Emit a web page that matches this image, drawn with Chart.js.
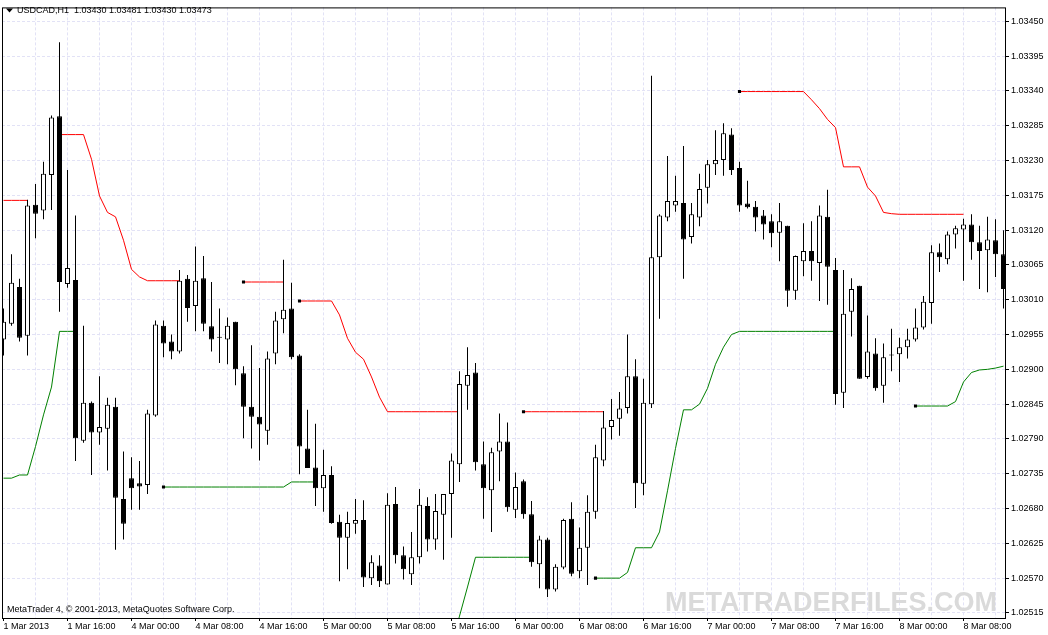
<!DOCTYPE html>
<html><head><meta charset="utf-8">
<script src="https://cdn.jsdelivr.net/npm/chart.js@4/dist/chart.umd.min.js"></script>
<style>html,body{margin:0;padding:0;background:#fff;overflow:hidden}</style>
</head><body>
<canvas id="c" width="1048" height="635"></canvas>
<script>
const symbolTitle = 'USDCAD,H1  1.03430 1.03481 1.03430 1.03473';
const copyright = 'MetaTrader 4, \u00a9 2001-2013, MetaQuotes Software Corp.';
const watermark = 'METATRADERFILES.COM';

const xTickLabels = ['1 Mar 2013','1 Mar 16:00','4 Mar 00:00','4 Mar 08:00','4 Mar 16:00','5 Mar 00:00','5 Mar 08:00','5 Mar 16:00',
  '6 Mar 00:00','6 Mar 08:00','6 Mar 16:00','7 Mar 00:00','7 Mar 08:00','7 Mar 16:00','8 Mar 00:00','8 Mar 08:00'];
const yTicks = [1.02515,1.02570,1.02625,1.02680,1.02735,1.02790,1.02845,1.02900,1.02955,1.03010,1.03065,1.03120,1.03175,1.03230,1.03285,1.03340,1.03395,1.03450];

const open = [
1.02947,1.02972,1.03030,1.02953,1.03160,1.03151,1.03207,1.03300,1.03035,1.03041,
1.02787,1.02847,1.02800,1.02806,1.02841,1.02695,1.02728,1.02720,1.02717,1.02827,
1.02969,1.02944,1.02928,1.03043,1.03000,1.03044,1.02968,1.02950,1.02947,1.02975,
1.02894,1.02841,1.02825,1.02803,1.02925,1.02979,1.02996,1.02922,1.02775,1.02745,
1.02712,1.02733,1.02659,1.02634,1.02656,1.02662,1.02570,1.02590,1.02560,1.02687,
1.02606,1.02576,1.02603,1.02684,1.02631,1.02670,1.02703,1.02750,1.02874,1.02895,
1.02750,1.02709,1.02770,1.02786,1.02678,1.02723,1.02671,1.02592,1.02631,1.02552,
1.02587,1.02664,1.02581,1.02618,1.02675,1.02756,1.02809,1.02822,1.02839,1.02889,
1.02719,1.02845,1.03077,1.03140,1.03159,1.03163,1.03109,1.03140,1.03187,1.03224,
1.03231,1.03271,1.03218,1.03162,1.03157,1.03143,1.03134,1.03116,1.03127,1.03024,
1.03071,1.03087,1.03068,1.03141,1.03057,1.02863,1.02991,1.03032,1.02888,1.02925,
1.02874,1.02922,1.02924,1.02935,1.02947,1.02966,1.03005,1.03085,1.03074,1.03113,
1.03121,1.03129,1.03101,1.03088,1.03104,1.03082];
const high = [
1.02996,1.03082,1.03043,1.03168,1.03193,1.03228,1.03301,1.03417,1.03215,1.03143,
1.02969,1.02849,1.02889,1.02855,1.02855,1.02770,1.02761,1.02755,1.02836,1.02977,
1.02977,1.02955,1.03057,1.03049,1.03094,1.03079,1.03038,1.02996,1.02982,1.02975,
1.02905,1.02938,1.02902,1.02928,1.02991,1.03073,1.03037,1.02924,1.02836,1.02814,
1.02773,1.02747,1.02670,1.02675,1.02695,1.02693,1.02606,1.02606,1.02704,1.02714,
1.02620,1.02643,1.02711,1.02698,1.02703,1.02703,1.02767,1.02897,1.02935,1.02910,
1.02786,1.02776,1.02830,1.02816,1.02737,1.02726,1.02692,1.02637,1.02634,1.02592,
1.02664,1.02690,1.02650,1.02701,1.02781,1.02834,1.02853,1.02864,1.02955,1.02916,
1.02885,1.03364,1.03145,1.03237,1.03206,1.03253,1.03163,1.03209,1.03231,1.03278,
1.03289,1.03281,1.03228,1.03198,1.03166,1.03152,1.03145,1.03163,1.03127,1.03080,
1.03131,1.03134,1.03159,1.03184,1.03076,1.03057,1.03044,1.03032,1.02985,1.02949,
1.02941,1.02964,1.02950,1.02964,1.02996,1.03016,1.03096,1.03099,1.03118,1.03127,
1.03138,1.03145,1.03127,1.03141,1.03137,1.03120];
const low = [
1.02922,1.02969,1.02944,1.02922,1.03107,1.03137,1.03152,1.02991,1.03029,1.02755,
1.02784,1.02733,1.02781,1.02740,1.02615,1.02631,1.02678,1.02678,1.02703,1.02825,
1.02919,1.02916,1.02925,1.02975,1.02960,1.02960,1.02928,1.02910,1.02908,1.02875,
1.02791,1.02775,1.02756,1.02781,1.02908,1.02957,1.02916,1.02734,1.02744,1.02684,
1.02675,1.02656,1.02565,1.02584,1.02640,1.02556,1.02559,1.02556,1.02560,1.02593,
1.02568,1.02559,1.02593,1.02612,1.02615,1.02599,1.02634,1.02722,1.02836,1.02740,
1.02664,1.02643,1.02723,1.02675,1.02665,1.02664,1.02588,1.02554,1.02540,1.02549,
1.02584,1.02573,1.02570,1.02559,1.02664,1.02747,1.02789,1.02795,1.02830,1.02681,
1.02701,1.02839,1.02980,1.03134,1.03149,1.03043,1.03099,1.03126,1.03162,1.03207,
1.03206,1.03207,1.03149,1.03154,1.03118,1.03105,1.03093,1.03071,1.02999,1.03010,
1.03047,1.03040,1.03008,1.03002,1.02844,1.02839,1.02952,1.02885,1.02885,1.02866,
1.02847,1.02897,1.02880,1.02917,1.02944,1.02963,1.02972,1.03054,1.03066,1.03091,
1.03040,1.03073,1.03027,1.03022,1.03046,1.02996];
const close = [
1.02975,1.03037,1.02950,1.03159,1.03146,1.03209,1.03298,1.03038,1.03060,1.02791,
1.02847,1.02800,1.02809,1.02844,1.02697,1.02656,1.02712,1.02715,1.02830,1.02971,
1.02941,1.02928,1.03040,1.02997,1.03040,1.02972,1.02947,1.02950,1.02969,1.02900,
1.02841,1.02825,1.02813,1.02917,1.02977,1.02994,1.02919,1.02778,1.02744,1.02712,
1.02733,1.02657,1.02634,1.02657,1.02662,1.02571,1.02595,1.02565,1.02686,1.02606,
1.02584,1.02603,1.02686,1.02631,1.02676,1.02703,1.02756,1.02877,1.02891,1.02753,
1.02712,1.02769,1.02786,1.02682,1.02714,1.02671,1.02595,1.02631,1.02552,1.02588,
1.02662,1.02577,1.02618,1.02675,1.02761,1.02808,1.02820,1.02838,1.02889,1.02720,
1.02847,1.03077,1.03143,1.03166,1.03166,1.03105,1.03145,1.03185,1.03224,1.03231,
1.03273,1.03215,1.03159,1.03156,1.03140,1.03129,1.03115,1.03134,1.03024,1.03079,
1.03087,1.03071,1.03143,1.03062,1.02861,1.02988,1.03027,1.02885,1.02928,1.02870,
1.02919,1.02922,1.02935,1.02947,1.02966,1.03007,1.03085,1.03077,1.03113,1.03123,
1.03129,1.03101,1.03087,1.03105,1.03082,1.03027];

const redLine = [
1.03167,1.03167,1.03167,1.03167,null,null,null,1.03271,1.03271,1.03271,
1.03271,1.03232,1.03174,1.03148,1.03141,1.03104,1.03058,1.03046,1.03040,1.03040,
1.03040,1.03040,1.03040,null,null,null,null,null,null,null,
1.03038,1.03038,1.03038,1.03038,1.03038,1.03038,null,1.03008,1.03008,1.03008,
1.03008,1.03008,1.02986,1.02949,1.02927,1.02916,1.02888,1.02856,1.02833,1.02833,
1.02833,1.02833,1.02833,1.02833,1.02833,1.02833,1.02833,1.02833,null,null,
null,null,null,null,null,1.02833,1.02833,1.02833,1.02833,1.02833,
1.02833,1.02833,1.02833,1.02833,1.02833,1.02833,null,null,null,null,
null,null,null,null,null,null,null,null,null,null,
null,null,1.03339,1.03339,1.03339,1.03339,1.03339,1.03339,1.03339,1.03339,
1.03339,1.03326,1.03312,1.03295,1.03282,1.03220,1.03220,1.03220,1.03188,1.03174,
1.03148,1.03146,1.03145,1.03145,1.03145,1.03145,1.03145,1.03145,1.03145,1.03145,
1.03145,null,null,null,null,null];
const greenLine = [
1.02728,1.02728,1.02733,1.02733,1.02778,1.02828,1.02872,1.02960,1.02960,1.02960,
null,null,null,null,null,null,null,null,null,null,
1.02714,1.02714,1.02714,1.02714,1.02714,1.02714,1.02714,1.02714,1.02714,1.02714,
1.02714,1.02714,1.02714,1.02714,1.02714,1.02714,1.02722,1.02722,1.02722,1.02722,
null,null,null,null,null,null,null,null,null,null,
null,null,null,null,null,null,1.02465,1.02510,1.02556,1.02603,
1.02603,1.02603,1.02603,1.02603,1.02603,1.02603,1.02603,null,null,null,
null,null,null,null,1.02570,1.02570,1.02570,1.02570,1.02579,1.02618,
1.02618,1.02618,1.02643,1.02708,1.02775,1.02836,1.02836,1.02845,1.02870,1.02908,
1.02935,1.02955,1.02960,1.02960,1.02960,1.02960,1.02960,1.02960,1.02960,1.02960,
1.02960,1.02960,1.02960,1.02960,1.02960,null,null,null,null,null,
null,null,null,null,1.02842,1.02842,1.02842,1.02842,1.02842,1.02849,
1.02880,1.02895,1.02899,1.02900,1.02902,1.02905];

const GRID = 'rgb(226,226,246)';
const FONT = "'Liberation Sans', Arial, sans-serif";
Chart.defaults.font.family = FONT;
Chart.defaults.font.size = 9;
Chart.defaults.color = '#000';

const idx = open.map((_, i) => i);
function segStarts(arr) {
  const out = [];
  arr.forEach((v, i) => { if (i > 0 && v !== null && arr[i - 1] === null) out.push({x: i, y: v}); });
  return out;
}

const mtPlugin = {
  id: 'mt',
  beforeDraw(chart) {
    const c = chart.ctx; c.save(); c.fillStyle = '#fff'; c.fillRect(0, 0, chart.width, chart.height); c.restore();
  },
  beforeDatasetsDraw(chart) {
    const c = chart.ctx; c.save();
    c.font = 'bold 27px ' + FONT; c.fillStyle = '#dadada'; c.textBaseline = 'alphabetic'; c.textAlign = 'left';
    c.fillText(watermark, 665, 611);
    c.restore();
  },
  afterDatasetsDraw(chart) {
    const c = chart.ctx, a = chart.chartArea;
    c.save();
    c.strokeStyle = '#000'; c.lineWidth = 1;
    c.strokeRect(a.left + 0.5, a.top + 0.5, a.right - a.left, a.bottom - a.top);
    c.fillStyle = '#000';
    c.beginPath(); c.moveTo(6, 8.5); c.lineTo(13, 8.5); c.lineTo(9.5, 12.5); c.closePath(); c.fill();
    c.font = '9px ' + FONT; c.textBaseline = 'middle'; c.textAlign = 'left';
    c.fillText(symbolTitle, 17, 10.5);
    c.fillText(copyright, 7, 610);
    c.restore();
  }
};

new Chart(document.getElementById('c'), {
  type: 'bar',
  data: {
    datasets: [
      { type: 'bar', label: 'body', data: idx.map(i => ({x: i, y: [open[i], close[i]]})),
        backgroundColor: idx.map(i => close[i] > open[i] ? '#ffffff' : '#000000'),
        borderColor: '#000', borderWidth: 1, borderSkipped: false, barThickness: 5, minBarLength: 1,
        grouped: false, inflateAmount: 0, order: 0 },
      { type: 'bar', label: 'wick', data: idx.map(i => ({x: i, y: [low[i], high[i]]})),
        backgroundColor: '#000', borderWidth: 0, barThickness: 1, grouped: false, inflateAmount: 0, order: 1 },
      { type: 'scatter', label: 'starts', data: segStarts(redLine).concat(segStarts(greenLine)),
        pointStyle: 'rect', pointRadius: 2.2, pointBackgroundColor: '#000', pointBorderWidth: 0, showLine: false, order: 2 },
      { type: 'line', label: 'red', data: idx.map(i => ({x: i, y: redLine[i]})), borderColor: '#ff0000',
        borderWidth: 1, pointRadius: 0, tension: 0, spanGaps: false, order: 3 },
      { type: 'line', label: 'green', data: idx.map(i => ({x: i, y: greenLine[i]})), borderColor: '#008000',
        borderWidth: 1, pointRadius: 0, tension: 0, spanGaps: false, order: 3 }
    ]
  },
  options: {
    responsive: false, animation: false, devicePixelRatio: 1, events: [],
    layout: { padding: { left: 2, top: 2, right: 0, bottom: 0 }, autoPadding: false },
    plugins: { legend: { display: false }, tooltip: { enabled: false } },
    scales: {
      x: {
        type: 'linear', position: 'bottom', min: -0.1875, max: 125.1875, bounds: 'data', offset: false,
        afterBuildTicks(s) { const t = []; for (let v = 0; v <= 124; v += 4) t.push({value: v}); s.ticks = t; },
        afterFit(s) { s.height = 17; },
        ticks: { autoSkip: false, maxRotation: 0, minRotation: 0, align: 'start', padding: 0, color: '#000',
          font: { size: 9 }, callback: v => (v % 8 === 0 ? xTickLabels[v / 8] : '') },
        grid: { color: c => (c.tick && c.tick.value === 0 ? 'rgba(0,0,0,0)' : GRID), lineWidth: 1, offset: false,
          tickLength: 3, tickColor: c => (c.tick && c.tick.value % 8 === 0 ? '#000' : 'rgba(0,0,0,0)') },
        border: { display: false, dash: [3, 2] }
      },
      y: {
        type: 'linear', position: 'right', min: 1.02507, max: 1.03472, bounds: 'data',
        afterBuildTicks(s) { s.ticks = yTicks.map(v => ({value: v})); },
        afterFit(s) { s.width = 43; },
        ticks: { autoSkip: false, padding: 2, color: '#000', font: { size: 9 }, callback: v => Number(v).toFixed(5) },
        grid: { color: GRID, lineWidth: 1, tickLength: 4, tickColor: '#000' },
        border: { display: false, dash: [3, 2] }
      }
    }
  },
  plugins: [mtPlugin]
});
</script>
</body></html>
